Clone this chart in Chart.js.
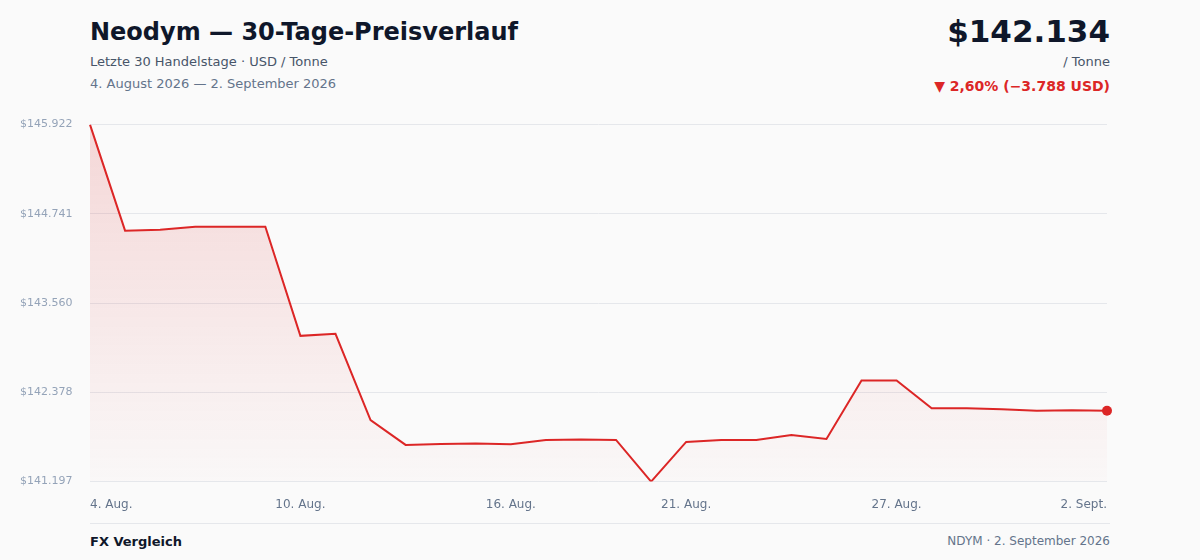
<!DOCTYPE html>
<html><head><meta charset="utf-8">
<script src="https://cdn.jsdelivr.net/npm/chart.js@4"></script>
<style>
body{margin:0;background:#fafafa;font-family:"DejaVu Sans",sans-serif;width:1200px;height:560px;position:relative;overflow:hidden}
.a{position:absolute}
</style></head><body>
<div class="a" style="left:90px;top:18px;font-size:24px;font-weight:bold;color:#0f172a">Neodym — 30-Tage-Preisverlauf</div>
<div class="a" style="left:90px;top:54px;font-size:13px;color:#475569">Letzte 30 Handelstage · USD / Tonne</div>
<div class="a" style="left:90px;top:76px;font-size:13px;color:#64748b">4. August 2026 — 2. September 2026</div>
<div class="a" style="right:90px;top:13px;font-size:31px;font-weight:bold;color:#0f172a">$142.134</div>
<div class="a" style="right:90px;top:54px;font-size:13px;color:#475569">/ Tonne</div>
<div class="a" style="right:90px;top:78px;font-size:14px;font-weight:bold;color:#dc2626">▼ 2,60% (−3.788 USD)</div>
<div class="a" style="left:20px;top:110px;width:1095px;height:410px"><canvas id="c"></canvas></div>
<div class="a" style="left:90px;top:523px;width:1020px;border-top:1px solid #e5e7eb"></div>
<div class="a" style="left:90px;top:534px;font-size:13px;font-weight:bold;color:#0f172a">FX Vergleich</div>
<div class="a" style="right:90px;top:534px;font-size:12px;color:#64748b">NDYM · 2. September 2026</div>
<script>
const labels=["4. Aug.","5. Aug.","6. Aug.","7. Aug.","8. Aug.","9. Aug.","10. Aug.","11. Aug.","12. Aug.","13. Aug.","14. Aug.","15. Aug.","16. Aug.","17. Aug.","18. Aug.","19. Aug.","20. Aug.","21. Aug.","22. Aug.","23. Aug.","24. Aug.","25. Aug.","26. Aug.","27. Aug.","28. Aug.","29. Aug.","30. Aug.","31. Aug.","1. Sept.","2. Sept."];
const shownLabels=["4. Aug.","10. Aug.","16. Aug.","21. Aug.","27. Aug.","2. Sept."];
const shownIdx=[0,6,12,17,23,29];
const prices=[145922,144518,144531,144570,144570,144570,143126,143153,142011,141683,141696,141702,141690,141748,141755,141748,141197,141722,141748,141748,141814,141761,142536,142536,142168,142168,142155,142135,142142,142134];
const yTicks=[141197,142378,143560,144741,145922];
const fmt=v=>'$'+Math.round(v).toString().replace(/\B(?=(\d{3})+(?!\d))/g,'.');
const last=prices.length-1;
new Chart(document.getElementById('c'),{type:'line',
data:{labels,datasets:[{data:prices,borderColor:'#dc2626',borderWidth:2,tension:0,
fill:'start',backgroundColor:(ctx)=>{const a=ctx.chart.chartArea;if(!a)return 'rgba(220,38,38,0.1)';const g=ctx.chart.ctx.createLinearGradient(0,a.top,0,a.bottom);g.addColorStop(0,'rgba(220,38,38,0.16)');g.addColorStop(1,'rgba(220,38,38,0.01)');return g;},
pointRadius:c=>c.dataIndex===last?5:0,pointBackgroundColor:'#dc2626',pointBorderWidth:0}]},
options:{responsive:true,maintainAspectRatio:false,animation:false,
layout:{padding:{top:10,right:5,left:0,bottom:0}},
plugins:{legend:{display:false},tooltip:{enabled:false}},
scales:{
x:{grid:{display:false},border:{display:false},
ticks:{autoSkip:false,maxRotation:0,align:'inner',color:'#64748b',font:{size:12,family:'DejaVu Sans'},padding:8,
callback:(v,i)=>shownIdx.includes(i)?labels[i]:''}},
y:{min:141197,max:145922,afterBuildTicks:s=>{s.ticks=yTicks.map(v=>({value:v}));},afterFit:s=>{s.width=70;},
border:{display:false},grid:{color:'#e5e7eb',borderDash:[4,4],drawTicks:false},
ticks:{crossAlign:'far',color:'#94a3b8',font:{size:11,family:'DejaVu Sans'},padding:8,callback:v=>fmt(v)}}
}}});
</script></body></html>
